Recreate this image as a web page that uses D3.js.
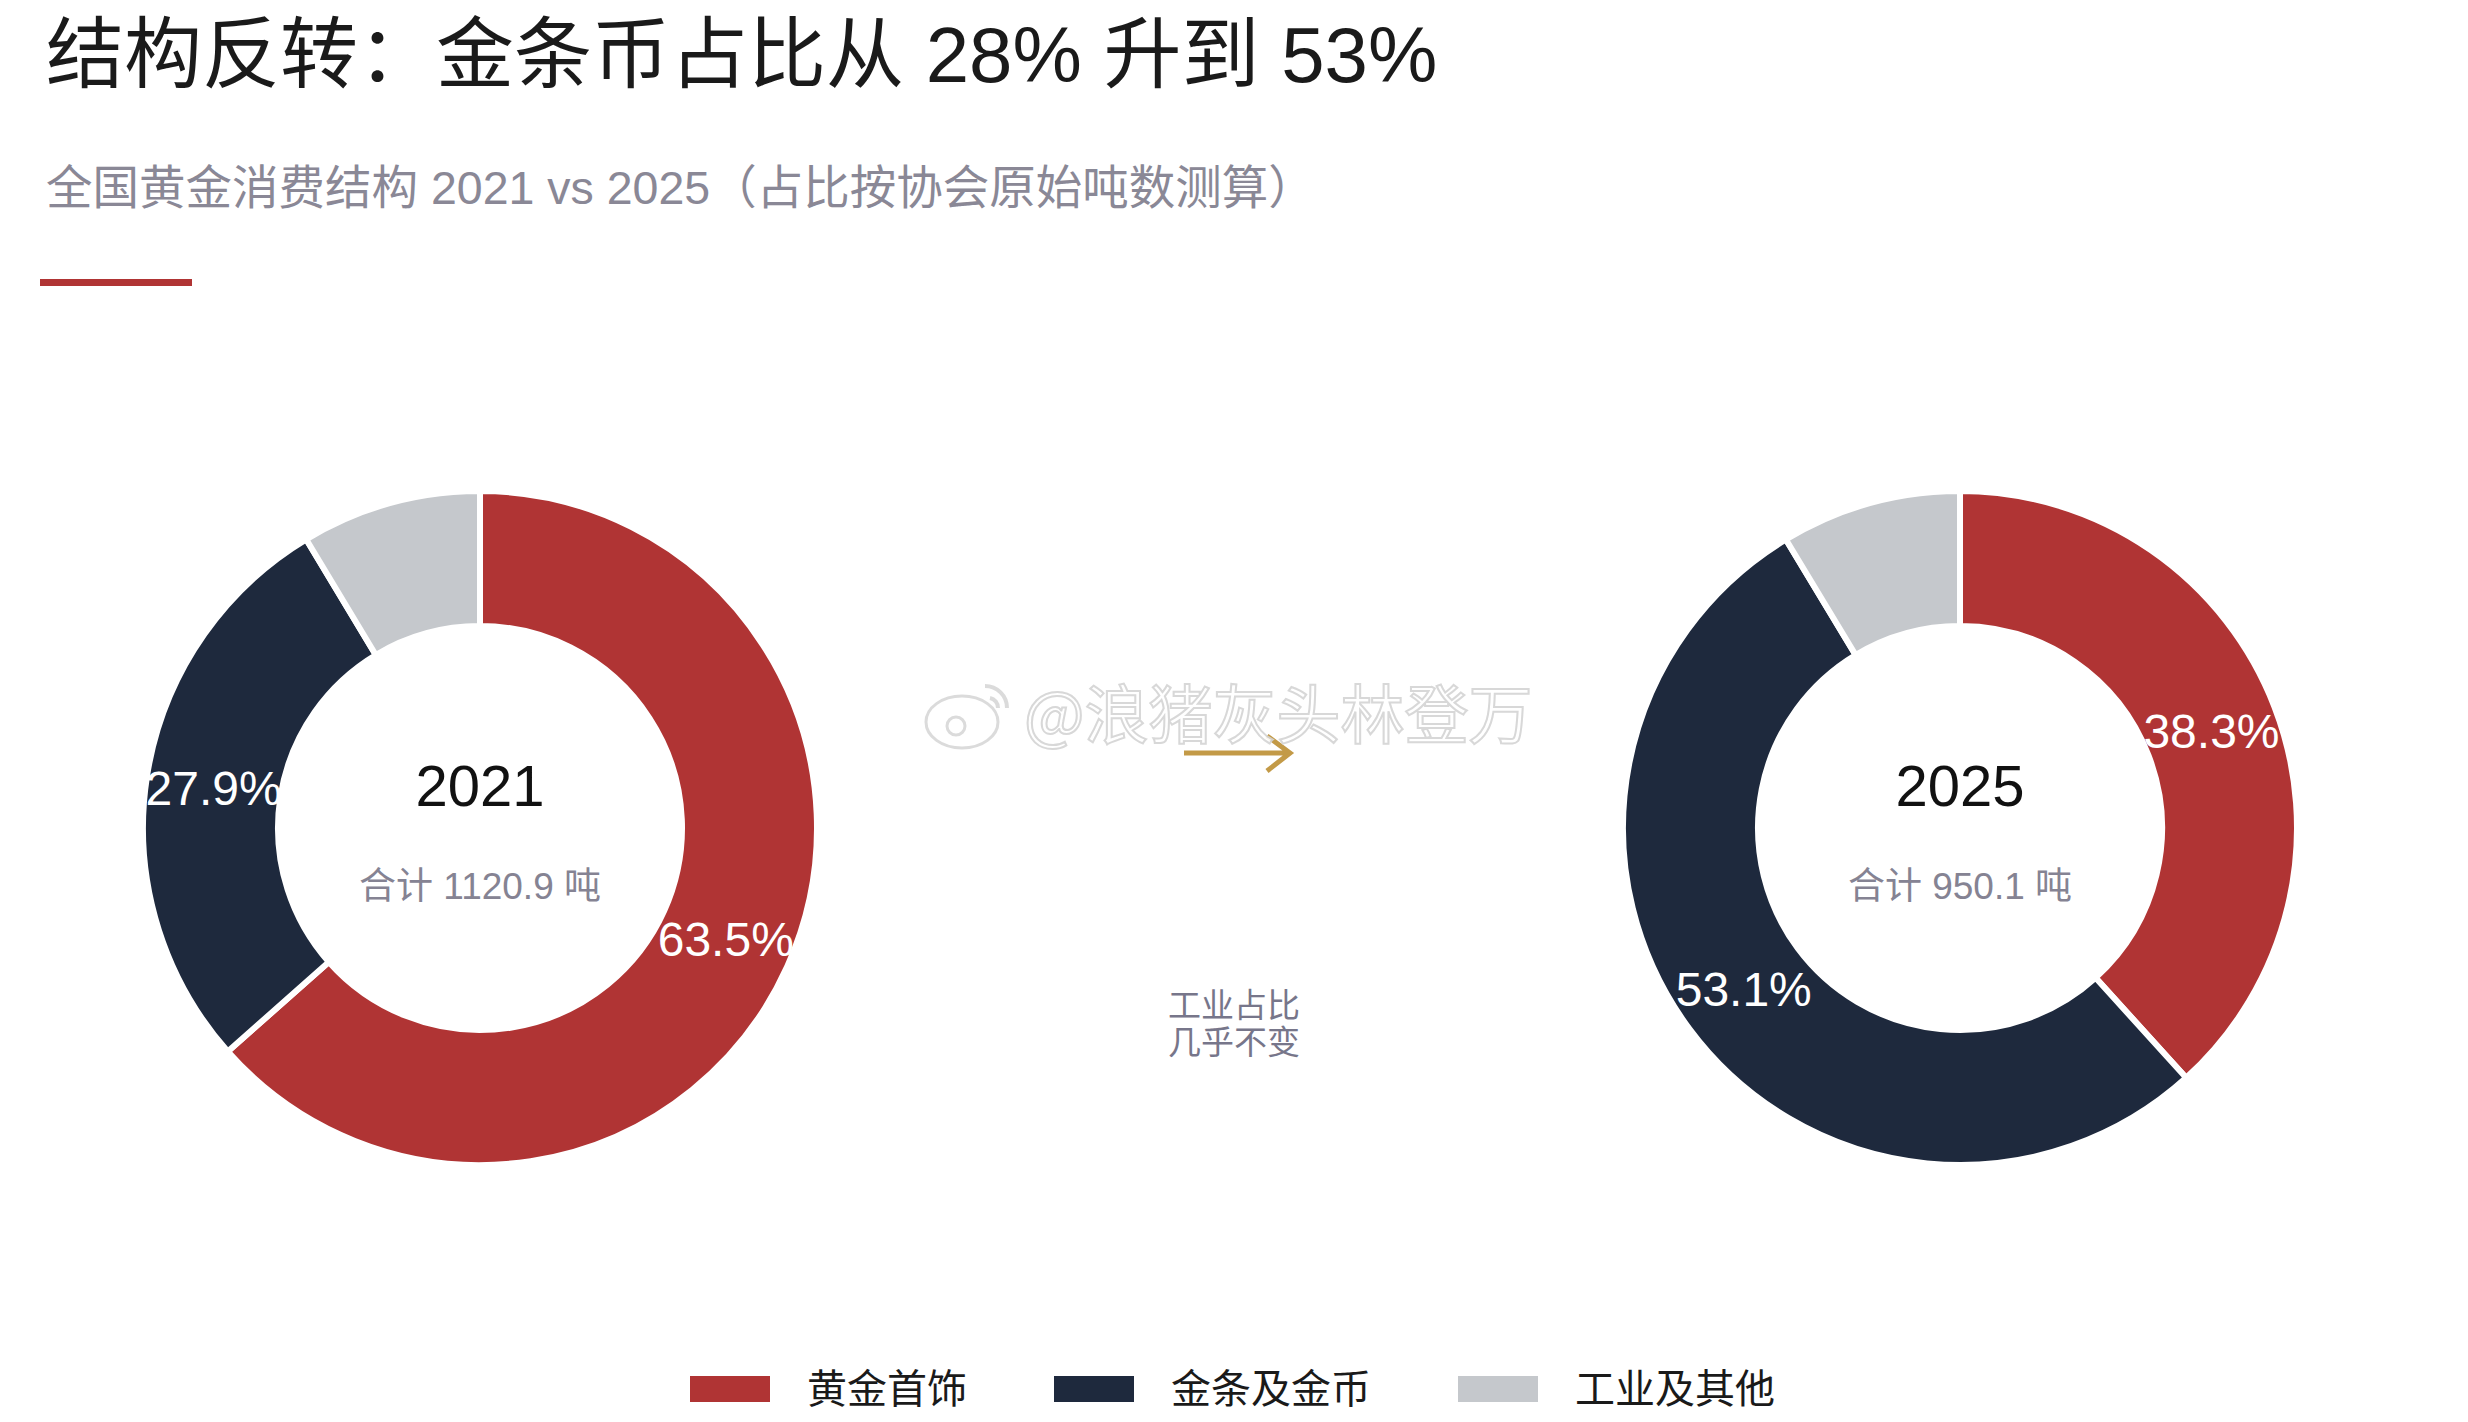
<!DOCTYPE html>
<html>
<head>
<meta charset="utf-8">
<script src="https://cdn.jsdelivr.net/npm/d3@7"></script>
<style>
  body { margin: 0; background: #fff; }
  svg { display: block; font-family: "Liberation Sans", "Noto Sans CJK SC", sans-serif; }
</style>
</head>
<body>
<div id="chart"></div>
<script>
// categories + tonnes (China Gold Association raw figures)
var categories = ["黄金首饰", "金条及金币", "工业及其他"];
var years = ["2021", "2025"];
var tonnes2021 = [711.3, 312.9, 96.7];
var tonnes2025 = [363.8, 504.2, 82.1];
var colors = ["#b03434", "#1e293d", "#c5c8cc"];

var width = 2468, height = 1422;

var svg = d3.select("#chart").append("svg")
  .attr("width", width)
  .attr("height", height);

// title block
svg.append("text")
  .attr("x", 46).attr("y", 82)
  .style("font-size", "78px")
  .style("fill", "#1a1a1a")
  .text("结构反转：金条币占比从 28% 升到 53%");

svg.append("text")
  .attr("x", 46).attr("y", 204)
  .style("font-size", "46.5px")
  .style("fill", "#8a8896")
  .text("全国黄金消费结构 2021 vs 2025（占比按协会原始吨数测算）");

svg.append("rect")
  .attr("x", 40).attr("y", 279)
  .attr("width", 152).attr("height", 7)
  .style("fill", "#b03434");

var color = d3.scaleOrdinal().domain(categories).range(colors);

var pie = d3.pie().sort(null).value(function(d) { return d.v; });
var outerR = 337, innerR = 202;
var arc = d3.arc().innerRadius(innerR).outerRadius(outerR);
var labelArc = d3.arc().innerRadius((innerR + outerR) / 2).outerRadius((innerR + outerR) / 2);

var x = d3.scalePoint().domain(years).range([480, 1960]);
var cy = 828;

function donut(year, vals) {
  var total = d3.sum(vals);
  var data = categories.map(function(c, i) { return {k: c, v: vals[i]}; });
  var g = svg.append("g")
    .attr("transform", "translate(" + x(year) + "," + cy + ")");

  g.selectAll("path")
    .data(pie(data))
    .enter().append("path")
    .attr("d", arc)
    .style("fill", function(d) { return color(d.data.k); })
    .style("stroke", "#fff")
    .style("stroke-width", 6);

  // only the two big slices get a label
  g.selectAll(".pct")
    .data(pie(data).filter(function(d) { return d.data.v / total > 0.15; }))
    .enter().append("text")
    .attr("class", "pct")
    .attr("transform", function(d) { return "translate(" + labelArc.centroid(d) + ")"; })
    .attr("dy", "0.36em")
    .style("text-anchor", "middle")
    .style("font-size", "48px")
    .style("fill", "#fff")
    .text(function(d) { return (d.data.v / total * 100).toFixed(1) + "%"; });

  g.append("text")
    .attr("y", -22)
    .style("text-anchor", "middle")
    .style("font-size", "58px")
    .style("fill", "#111")
    .text(year);

  g.append("text")
    .attr("y", 71)
    .style("text-anchor", "middle")
    .style("font-size", "37px")
    .style("fill", "#858393")
    .text("合计 " + total.toFixed(1) + " 吨");
}

donut("2021", tonnes2021);
donut("2025", tonnes2025);

// middle arrow + note
var mid = width / 2;
svg.append("path")
  .attr("d", "M" + (mid - 50) + "," + 753 + "H" + (mid + 56) +
             "M" + (mid + 33) + "," + 736 + "L" + (mid + 56) + "," + 753 + "L" + (mid + 33) + "," + 771)
  .style("fill", "none")
  .style("stroke", "#c39a47")
  .style("stroke-width", 5);

svg.append("text")
  .attr("x", mid).attr("y", 1017)
  .style("text-anchor", "middle")
  .style("font-size", "33px")
  .style("fill", "#77768a")
  .text("工业占比");
svg.append("text")
  .attr("x", mid).attr("y", 1054)
  .style("text-anchor", "middle")
  .style("font-size", "33px")
  .style("fill", "#77768a")
  .text("几乎不变");

// watermark
var wm = svg.append("g").style("opacity", 0.9);
wm.append("ellipse").attr("cx", 962).attr("cy", 722).attr("rx", 36).attr("ry", 26)
  .style("fill", "#fff").style("stroke", "#d8d8d8").style("stroke-width", 3);
wm.append("circle").attr("cx", 956).attr("cy", 726).attr("r", 9)
  .style("fill", "none").style("stroke", "#d8d8d8").style("stroke-width", 3);
wm.append("path").attr("d", "M985,686 A22,22 0 0 1 1007,708 M990,698 A10,10 0 0 1 998,708")
  .style("fill", "none").style("stroke", "#d8d8d8").style("stroke-width", 4);
wm.append("text")
  .attr("x", 1024).attr("y", 738)
  .style("font-family", "Noto Sans CJK SC")
  .style("font-size", "64px")
  .style("fill", "#fff")
  .style("stroke", "#d4d4d4")
  .style("stroke-width", 2)
  .text("@浪猪灰头林登万");

// legend
var legend = svg.append("g").attr("class", "legend");
var lx = 690;
categories.forEach(function(c) {
  var item = legend.append("g").attr("transform", "translate(" + lx + ",1376)");
  item.append("rect")
    .attr("width", 80).attr("height", 26)
    .style("fill", color(c));
  var t = item.append("text")
    .attr("x", 117).attr("y", 13).attr("dy", "0.36em")
    .style("font-size", "40px")
    .style("fill", "#1a1a1a")
    .text(c);
  lx += 117 + t.node().getComputedTextLength() + 87;
});
</script>
</body>
</html>
